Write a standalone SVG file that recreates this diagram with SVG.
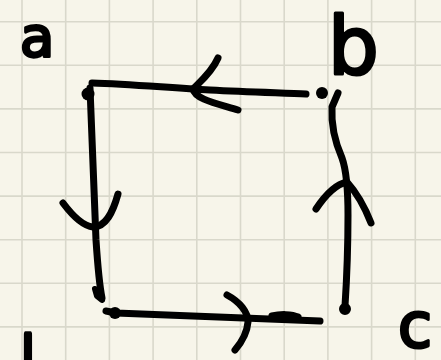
<svg xmlns="http://www.w3.org/2000/svg" width="441" height="360" viewBox="0 0 441 360">
  <style>
    .grid line { stroke: #d9d8cb; stroke-width: 1.6; }
    .ink { fill: none; stroke: #000; stroke-width: 7; stroke-linecap: round; stroke-linejoin: round; }
    .dot { fill: #000; }
    .lbl { font-family: "DejaVu Sans", sans-serif; fill: #000; stroke: #000; stroke-width: 3; stroke-linejoin: round; }
  </style>
  <rect width="441" height="360" fill="#f7f5ea"/>
  <g class="grid">
    <line x1="22" y1="0" x2="22" y2="360"/>
    <line x1="65.7" y1="0" x2="65.7" y2="360"/>
    <line x1="109.4" y1="0" x2="109.4" y2="360"/>
    <line x1="153.1" y1="0" x2="153.1" y2="360"/>
    <line x1="196.8" y1="0" x2="196.8" y2="360"/>
    <line x1="240.5" y1="0" x2="240.5" y2="360"/>
    <line x1="284.2" y1="0" x2="284.2" y2="360"/>
    <line x1="327.9" y1="0" x2="327.9" y2="360"/>
    <line x1="371.6" y1="0" x2="371.6" y2="360"/>
    <line x1="415.3" y1="0" x2="415.3" y2="360"/>
    <line x1="0" y1="21.7" x2="441" y2="21.7"/>
    <line x1="0" y1="65.3" x2="441" y2="65.3"/>
    <line x1="0" y1="108.9" x2="441" y2="108.9"/>
    <line x1="0" y1="152.5" x2="441" y2="152.5"/>
    <line x1="0" y1="196.1" x2="441" y2="196.1"/>
    <line x1="0" y1="239.7" x2="441" y2="239.7"/>
    <line x1="0" y1="283.3" x2="441" y2="283.3"/>
    <line x1="0" y1="326.9" x2="441" y2="326.9"/>
  </g>

  <g id="node-a">
    <circle class="dot" cx="88" cy="94" r="6.5"/>
    <text class="lbl" x="20" y="56" font-size="56">a</text>
  </g>
  <g id="node-b">
    <circle class="dot" cx="322" cy="93" r="6"/>
    <text class="lbl" x="328" y="74" font-size="80">b</text>
  </g>
  <g id="node-c">
    <circle class="ink" cx="345" cy="309" r="3" style="stroke-width:6"/>
    <text class="lbl" x="398" y="347" font-size="62">c</text>
  </g>
  <g id="node-d">
    <circle class="dot" cx="115" cy="313" r="6"/>
    <text class="lbl" transform="translate(-1,445) scale(1,2.5)" x="0" y="0" font-size="58">d</text>
  </g>

  <g id="connectors">
    <path class="ink" d="M92,83 C130,84 170,88 210,90 C250,92 285,93 306,94"/>
    <path class="ink" d="M218,58 C212,72 200,82 193,89 C195,99 215,103 238,110"/>
    <path class="ink" d="M90,88 C92,150 94,200 96,240 C98,270 100,288 102,298"/>
    <path class="ink" d="M95,289 L102,300 L97,296 Z" style="stroke-width:6"/>
    <path class="ink" d="M63,203 C72,215 82,226 93,227 C106,227 113,212 118,194"/>
    <path class="ink" d="M106,311 L116,313 C170,315 230,318 320,321"/>
    <path class="ink" d="M272,316 C280,314 292,314 298,317"/>
    <path class="ink" d="M227,295 C240,302 248,312 248,322 C247,334 241,343 235,350"/>
    <path class="ink" d="M338,93 L332,107 C331,125 335,142 342,158 C347,172 348,190 348,215 C348,245 347,275 345,306"/>
    <path class="ink" d="M316,209 C326,194 337,184 347,182 C356,192 364,205 371,223"/>
  </g>
</svg>
